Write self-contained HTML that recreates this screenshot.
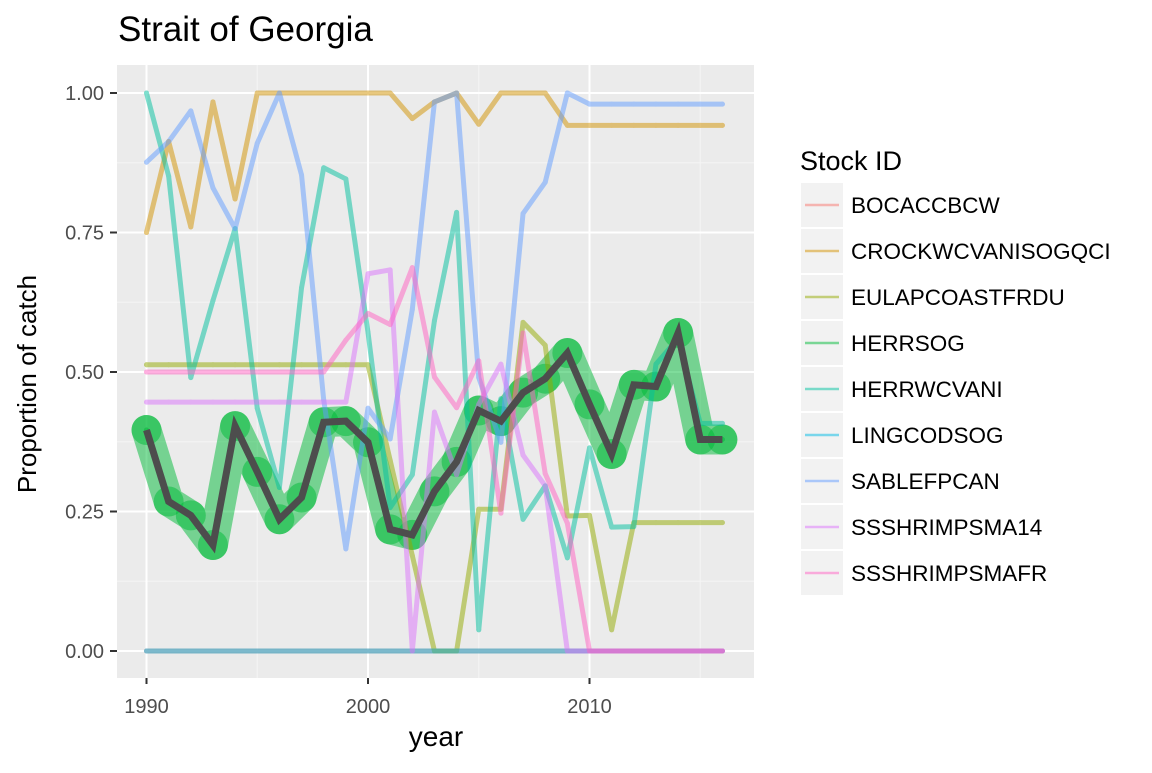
<!DOCTYPE html>
<html><head><meta charset="utf-8"><style>
body{margin:0;background:#fff;font-family:"Liberation Sans",Arial,sans-serif}
</style></head><body>
<svg id="chart" width="1152" height="768" xmlns="http://www.w3.org/2000/svg" font-family="Liberation Sans, Arial, sans-serif">
<text x="118" y="41" font-size="35" fill="#000">Strait of Georgia</text>
<rect x="117" y="65" width="637" height="613" fill="#EBEBEB"/>
<g id="grid"></g>
<g id="series"></g>
<g id="axes"></g>
<text x="436" y="746" font-size="28" text-anchor="middle">year</text>
<text transform="translate(36,384) rotate(-90)" font-size="26" text-anchor="middle">Proportion of catch</text>
<g id="legend"></g>
</svg>
<script>
const years=[1990,1991,1992,1993,1994,1995,1996,1997,1998,1999,2000,2001,2002,2003,2004,2005,2006,2007,2008,2009,2010,2011,2012,2013,2014,2015,2016];
const stockIds=["BOCACCBCW","CROCKWCVANISOGQCI","EULAPCOASTFRDU","HERRSOG","HERRWCVANI","LINGCODSOG","SABLEFPCAN","SSSHRIMPSMA14","SSSHRIMPSMAFR"];
const colors=["#F8766D","#D39200","#93AA00","#00BA38","#00C19F","#00B9E3","#619CFF","#DB72FB","#FF61C3"];
const bocacc=[0,0,0,0,0,0,0,0,0,0,0,0,0,0,0,0,0,0,0,0,0,0,0,0,0,0,0];
const crockw=[.75,.913,.76,.984,.81,1,1,1,1,1,1,1,.954,.984,1,.944,1,1,1,.942,.942,.942,.942,.942,.942,.942,.942];
const eulap=[.513,.513,.513,.513,.513,.513,.513,.513,.513,.513,.513,.342,.171,0,0,.254,.254,.589,.548,.242,.243,.038,.23,.23,.23,.23,.23];
const herrsog=[.396,.268,.243,.19,.403,.321,.236,.275,.41,.412,.374,.218,.208,.286,.339,.431,.412,.463,.488,.534,.442,.353,.477,.474,.57,.379,.379];
const herrwc=[1,.851,.49,.628,.757,.435,.293,.651,.866,.846,.571,.257,.316,.592,.786,.038,.452,.236,.296,.167,.364,.222,.223,.514,.56,.408,.408];
const lingcod=[0,0,0,0,0,0,0,0,0,0,0,0,0,0,0,0,0,0,0,0,0,0,0,0,0,0,0];
const sable=[.876,.913,.968,.83,.757,.91,1,.853,.45,.183,.435,.38,.612,.984,1,.49,.374,.784,.84,1,.98,.98,.98,.98,.98,.98,.98];
const sma14=[.446,.446,.446,.446,.446,.446,.446,.446,.446,.446,.676,.683,0,.428,.316,.442,.514,.351,.296,0,0,0,0,0,0,0,0];
const smafr=[.5,.5,.5,.5,.5,.5,.5,.5,.5,.557,.605,.585,.687,.491,.436,.52,.247,.57,.318,.229,0,0,0,0,0,0,0];
const seriesList=[bocacc,crockw,eulap,herrsog,herrwc,lingcod,sable,sma14,smafr];
const xTicks=[1990,2000,2010];
const yTicks=[0,0.25,0.5,0.75,1];
const yTickLabels=["0.00","0.25","0.50","0.75","1.00"];
const NS="http://www.w3.org/2000/svg";
const X=v=>146.5+(v-1990)*22.15;
const Y=v=>651-v*558;
const PL=117,PR=754,PT=65,PB=678;
function mk(parent,tag,attrs){const e=document.createElementNS(NS,tag);for(const k in attrs)e.setAttribute(k,attrs[k]);parent.appendChild(e);return e;}
const grid=document.getElementById('grid');
[1995,2005,2015].forEach(v=>{const l=mk(grid,'line',{x1:X(v),x2:X(v),y1:PT,y2:PB,stroke:'#F5F5F5','stroke-width':1});

});
[.125,.375,.625,.875].forEach(v=>{const l=mk(grid,'line',{x1:PL,x2:PR,y1:Y(v),y2:Y(v),stroke:'#F5F5F5','stroke-width':1});

});
xTicks.forEach(v=>{const l=mk(grid,'line',{x1:X(v),x2:X(v),y1:PT,y2:PB,stroke:'#fff','stroke-width':2});

});
yTicks.forEach(v=>{const l=mk(grid,'line',{x1:PL,x2:PR,y1:Y(v),y2:Y(v),stroke:'#fff','stroke-width':2});

});
const axes=document.getElementById('axes');
xTicks.forEach(v=>{const t=mk(axes,'text',{x:X(v),y:713,'font-size':20,fill:'#4D4D4D','text-anchor':'middle'});t.textContent=v;


mk(axes,'line',{x1:X(v),x2:X(v),y1:PB,y2:PB+6,stroke:'#333','stroke-width':2});});
yTicks.forEach((v,i)=>{const t=mk(axes,'text',{x:104,y:Y(v)+7,'font-size':20,fill:'#4D4D4D','text-anchor':'end'});t.textContent=yTickLabels[i];


mk(axes,'line',{x1:PL-7,x2:PL,y1:Y(v),y2:Y(v),stroke:'#333','stroke-width':2});});
const sg=document.getElementById('series');
const pts=d=>d.map((v,i)=>X(years[i])+','+Y(v)).join(' ');
const hl=mk(sg,'polyline',{points:pts(herrsog),fill:'none',stroke:'#00BA38','stroke-opacity':0.5,'stroke-width':30,'stroke-linejoin':'round','stroke-linecap':'round'});


herrsog.forEach((v,i)=>{const c=mk(sg,'circle',{cx:X(years[i]),cy:Y(v),r:15,fill:'#00BA38','fill-opacity':0.5});

});
seriesList.forEach((d,s)=>{
 const g=mk(sg,'g',{opacity:0.5});
 
 
 mk(g,'polyline',{points:pts(d),fill:'none',stroke:colors[s],'stroke-width':5,'stroke-linejoin':'round','stroke-linecap':'round'});
 d.forEach((v,i)=>{const c=mk(g,'circle',{cx:X(years[i]),cy:Y(v),r:2.5,fill:colors[s]});
 
 });
});
const dl=mk(sg,'polyline',{points:pts(herrsog),fill:'none',stroke:'#4D4D4D','stroke-width':7,'stroke-linejoin':'miter'});


const lg=document.getElementById('legend');
const lt=mk(lg,'text',{x:800,y:170,'font-size':27});lt.textContent='Stock ID';


stockIds.forEach((n,i)=>{const y=183+i*46;
 const g=mk(lg,'g',{});
 
 
 mk(g,'rect',{x:801,y:y,width:42,height:44,fill:'#F2F2F2'});
 mk(g,'line',{x1:805,x2:839,y1:y+22,y2:y+22,stroke:colors[i],'stroke-width':2.5,'stroke-opacity':0.5});
 const t=mk(g,'text',{x:851,y:y+30,'font-size':22.5});t.textContent=n;});
</script>
</body></html>
